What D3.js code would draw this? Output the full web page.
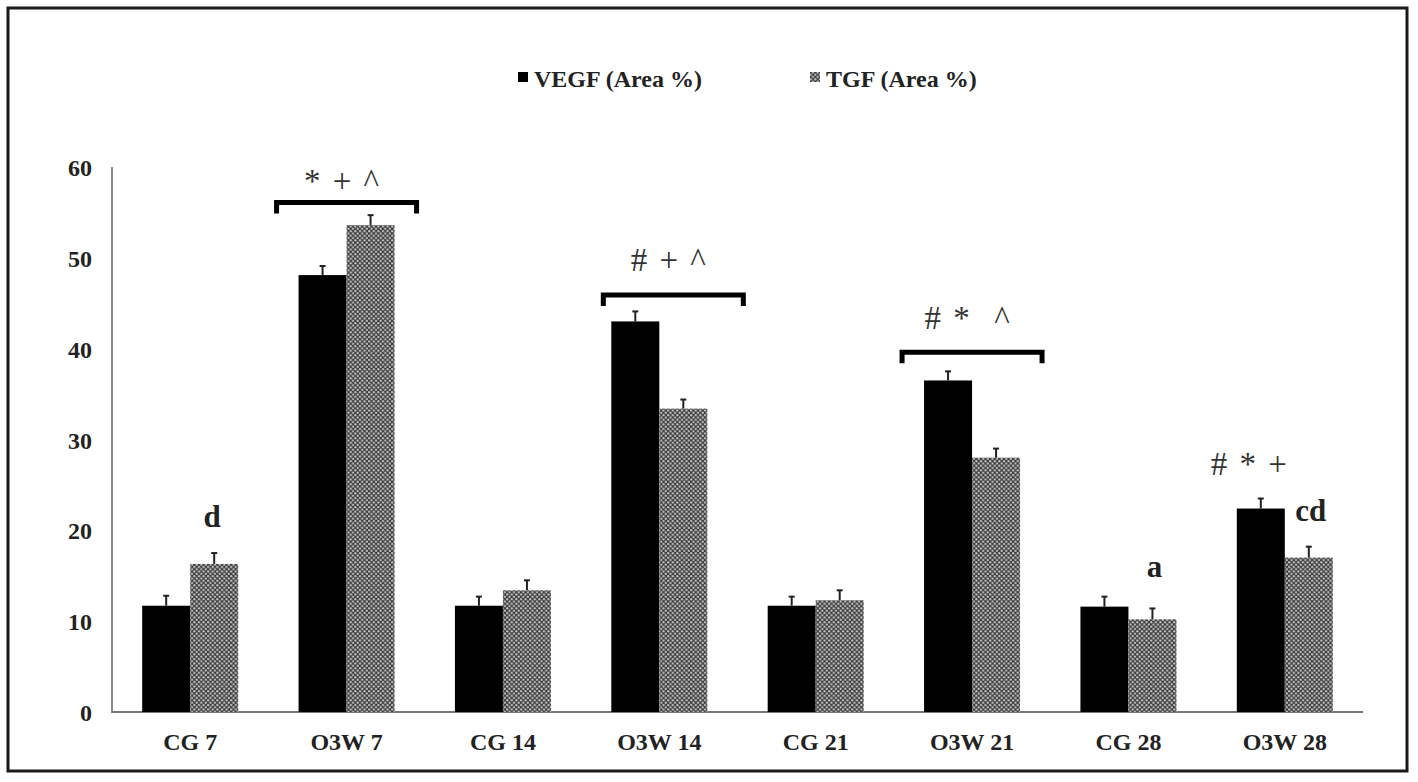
<!DOCTYPE html>
<html lang="en">
<head>
<meta charset="utf-8">
<title>VEGF / TGF Area %</title>
<script src="https://cdn.jsdelivr.net/npm/d3@7"></script>
<style>
body { margin: 0; background: #fff; }
text { font-family: "Liberation Serif", "Times New Roman", serif; }
.tick text { font-size: 24px; font-weight: bold; fill: #222; }
.lbl { font-size: 24px; font-weight: bold; fill: #222; }
.sig { font-size: 33px; fill: #333; word-spacing: 4px; }
.let { font-size: 31px; font-weight: bold; fill: #222; }
</style>
</head>
<body>
<script>
// data
var groups = ["CG 7", "O3W 7", "CG 14", "O3W 14", "CG 21", "O3W 21", "CG 28", "O3W 28"];
var vegf    = [11.7, 48.1, 11.7, 43.0, 11.7, 36.5, 11.6, 22.4];
var vegfErr = [1.1, 1.0, 1.0, 1.1, 1.0, 1.0, 1.1, 1.1];
var tgf     = [16.3, 53.6, 13.4, 33.4, 12.3, 28.0, 10.2, 17.0];
var tgfErr  = [1.2, 1.1, 1.1, 1.0, 1.1, 1.0, 1.2, 1.2];
var yTicks  = [0, 10, 20, 30, 40, 50, 60];
var seriesNames = ["VEGF (Area %)", "TGF (Area %)"];

// significance brackets: group, level (axis units), label
var bracketGroups = ["O3W 7", "O3W 14", "O3W 21"];
var bracketLevels = [56.1, 45.9, 39.6];
var bracketLabels = ["* + ^", "# + ^", "# *  ^"];
var bracketLabelLevels = [57.2, 48.6, 42.2];

// letters / symbols above single bars
var noteGroups = ["CG 7", "CG 28", "O3W 28", "O3W 28"];
var noteSeries = [1, 1, 1, 0];
var noteLevels = [20.4, 14.9, 21.0, 26.1];
var noteTexts  = ["d", "a", "cd", "# * +"];

var W = 1418, H = 782;
var svg = d3.select("body").append("svg")
    .attr("width", W)
    .attr("height", H);

var defs = svg.append("defs");
var pat = defs.append("pattern")
    .attr("id", "dots")
    .attr("patternUnits", "userSpaceOnUse")
    .attr("width", 4.6)
    .attr("height", 4.6);
pat.append("rect").attr("width", 4.6).attr("height", 4.6).attr("fill", "#3a3a3a");
pat.append("circle").attr("cx", 1.15).attr("cy", 1.15).attr("r", 1.15).attr("fill", "#c8c8c8");
pat.append("circle").attr("cx", 3.45).attr("cy", 3.45).attr("r", 1.15).attr("fill", "#c8c8c8");

// outer frame
svg.append("rect")
    .attr("x", 8).attr("y", 8)
    .attr("width", 1399).attr("height", 763)
    .attr("fill", "none")
    .attr("stroke", "#1a1a1a")
    .attr("stroke-width", 3);

var x = d3.scaleBand()
    .domain(groups)
    .range([112, 1363])
    .paddingInner(0.386)
    .paddingOuter(0.193);

var xs = d3.scaleBand()
    .domain([0, 1])
    .range([0, x.bandwidth()]);

var y = d3.scaleLinear()
    .domain([0, 60])
    .range([712, 167]);

// y axis
var yAxis = svg.append("g")
    .attr("transform", "translate(112,0)")
    .call(d3.axisLeft(y).tickValues(yTicks).tickSize(0).tickPadding(20).tickFormat(d3.format("d")));
yAxis.select(".domain").remove();
yAxis.selectAll(".tick text").attr("dy", "0.36em");

// x axis
var xAxis = svg.append("g")
    .attr("transform", "translate(0,712)")
    .call(d3.axisBottom(x).tickSize(0).tickPadding(21));
xAxis.select(".domain").remove();

svg.append("line")
    .attr("x1", 112).attr("x2", 112)
    .attr("y1", y(60)).attr("y2", y(0))
    .attr("stroke", "#888").attr("stroke-width", 2);
svg.append("line")
    .attr("x1", 111).attr("x2", 1363)
    .attr("y1", y(0)).attr("y2", y(0))
    .attr("stroke", "#777").attr("stroke-width", 2);

var series = [vegf, tgf];
var errs = [vegfErr, tgfErr];
var fills = ["#000", "url(#dots)"];

series.forEach(function(vals, s) {
    var g = svg.append("g");
    g.selectAll("rect")
        .data(vals)
        .enter().append("rect")
        .attr("x", function(d, i) { return x(groups[i]) + xs(s); })
        .attr("y", function(d) { return y(d); })
        .attr("width", xs.bandwidth())
        .attr("height", function(d) { return y(0) - y(d); })
        .attr("fill", fills[s]);

    // error bars (upper only)
    var eb = svg.append("g").attr("stroke", "#222").attr("stroke-width", 2);
    vals.forEach(function(d, i) {
        var cx = x(groups[i]) + xs(s) + xs.bandwidth() / 2;
        eb.append("line")
            .attr("x1", cx).attr("x2", cx)
            .attr("y1", y(d)).attr("y2", y(d + errs[s][i]));
        eb.append("line")
            .attr("x1", cx - 3).attr("x2", cx + 3)
            .attr("y1", y(d + errs[s][i])).attr("y2", y(d + errs[s][i]));
    });
});

// brackets
var brShift = [0, 14, 0];
bracketGroups.forEach(function(gname, i) {
    var cx = x(gname) + x.bandwidth() / 2 + brShift[i];
    var half = 70;
    var yy = y(bracketLevels[i]);
    svg.append("path")
        .attr("d", "M" + (cx - half) + "," + (yy + 11) + "V" + yy + "H" + (cx + half) + "V" + (yy + 11))
        .attr("fill", "none")
        .attr("stroke", "#000")
        .attr("stroke-width", 5);
    svg.append("text")
        .attr("class", "sig")
        .attr("x", cx - 5)
        .attr("y", y(bracketLabelLevels[i]))
        .attr("text-anchor", "middle")
        .attr("xml:space", "preserve")
        .text(bracketLabels[i]);
});

// notes over bars
var noteDx = [-2, 2, 2, -12];
noteTexts.forEach(function(t, i) {
    var cx = x(noteGroups[i]) + xs(noteSeries[i]) + xs.bandwidth() / 2;
    var isLetter = /^[a-z]+$/.test(t);
    svg.append("text")
        .attr("class", isLetter ? "let" : "sig")
        .attr("x", cx + noteDx[i])
        .attr("y", y(noteLevels[i]))
        .attr("text-anchor", "middle")
        .text(t);
});

// legend
var legX = [518, 810];
seriesNames.forEach(function(name, s) {
    svg.append("rect")
        .attr("x", legX[s]).attr("y", 72)
        .attr("width", 10).attr("height", 10)
        .attr("fill", fills[s]);
    svg.append("text")
        .attr("class", "lbl")
        .attr("x", legX[s] + 16)
        .attr("y", 87)
        .text(name);
});
</script>
</body>
</html>
